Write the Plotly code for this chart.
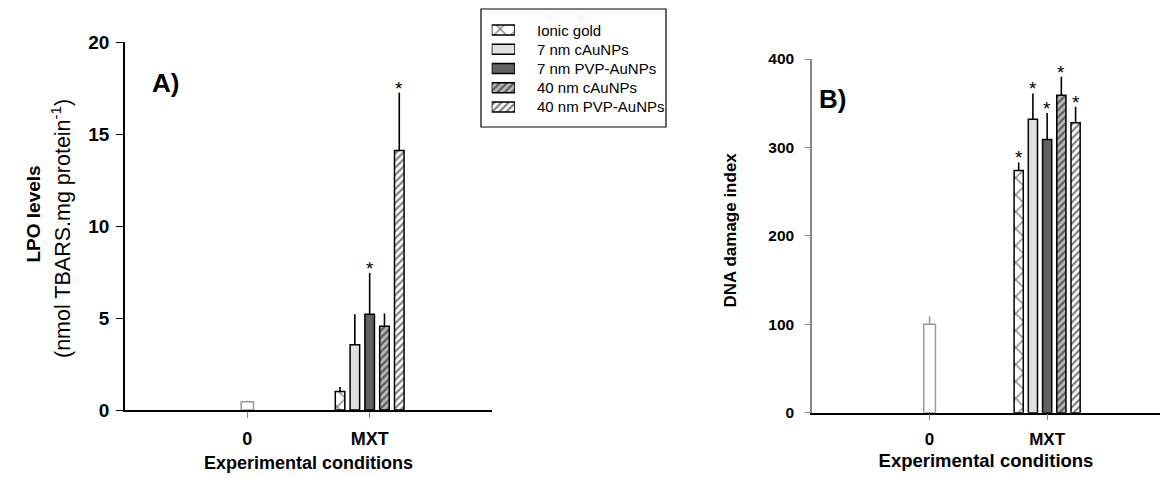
import plotly.graph_objects as go

# ---- data ----
categories = ["0", "MXT"]
groups = ["Ionic gold", "7 nm cAuNPs", "7 nm PVP-AuNPs", "40 nm cAuNPs", "40 nm PVP-AuNPs"]

# Panel A: LPO levels (nmol TBARS.mg protein-1)
lpo_control = 0.45
lpo_control_err = 0.05
lpo_mean = [1.0, 3.55, 5.2, 4.55, 14.1]
lpo_err = [0.25, 1.65, 2.25, 0.7, 3.15]
lpo_sig = [False, False, True, False, True]

# Panel B: DNA damage index
dna_control = 100
dna_control_err = 9
dna_mean = [274, 332, 309, 359, 328]
dna_err = [9, 29, 30, 21, 18]
dna_sig = [True, True, True, True, True]

# ---- styles ----
FONT = "Liberation Sans, Arial, sans-serif"
bar_w = 0.078
ctrl_w = 0.10
centers = [-0.242, -0.121, 0.0, 0.121, 0.242]
styles = [
    dict(color="white", pattern=dict(shape="x", fgcolor="black", bgcolor="white", size=12, solidity=0.22)),
    dict(color="#e0e0e0"),
    dict(color="#606060"),
    dict(color="#b8b8b8", pattern=dict(shape="/", fgcolor="black", bgcolor="#b8b8b8", size=5, solidity=0.42)),
    dict(color="white", pattern=dict(shape="/", fgcolor="black", bgcolor="white", size=5, solidity=0.42)),
]


def group_marker(i):
    st = styles[i]
    m = dict(color=st["color"], line=dict(color="black", width=1.5))
    if "pattern" in st:
        m["pattern"] = st["pattern"]
    return m


fig = go.Figure()


def add_panel(xa, ya, ctrl, ctrl_err, means, errs, sigs):
    fig.add_trace(go.Bar(
        x=[categories[0]], y=[ctrl], width=ctrl_w, offset=-ctrl_w / 2,
        marker=dict(color="white", line=dict(color="#999999", width=1.5)),
        error_y=dict(type="data", array=[ctrl_err], arrayminus=[0], symmetric=False,
                     color="#999999", thickness=1.5, width=0),
        xaxis=xa, yaxis=ya, showlegend=False, name="Control",
    ))
    for i, name in enumerate(groups):
        fig.add_trace(go.Bar(
            x=[categories[1]], y=[means[i]], width=bar_w, offset=centers[i] - bar_w / 2,
            name=name, showlegend=False, marker=group_marker(i),
            error_y=dict(type="data", array=[errs[i]], arrayminus=[0], symmetric=False,
                         color="black", thickness=1.6, width=0),
            xaxis=xa, yaxis=ya,
        ))
        if sigs[i]:
            fig.add_annotation(
                x=1 + centers[i], y=means[i] + errs[i], xref=xa, yref=ya,
                text="*", showarrow=False, yanchor="bottom", yshift=-8,
                font=dict(family=FONT, size=19, color="black"),
            )


add_panel("x", "y", lpo_control, lpo_control_err, lpo_mean, lpo_err, lpo_sig)
add_panel("x2", "y2", dna_control, dna_control_err, dna_mean, dna_err, dna_sig)

# ---- legend: swatches drawn as bars on a hidden axis pair, labels as text ----
for i, name in enumerate(groups):
    fig.add_trace(go.Bar(
        y=[i], x=[1], base=0, orientation="h", width=0.52, marker=group_marker(i),
        xaxis="x3", yaxis="y3", showlegend=False, name=name, hoverinfo="skip",
    ))
    fig.add_annotation(
        x=535 / 1160, y=i, xref="paper", yref="y3", text=name, showarrow=False,
        xanchor="left", yanchor="middle", font=dict(family=FONT, size=15, color="black"),
    )
fig.add_shape(type="rect", xref="paper", yref="paper",
              x0=481 / 1160, x1=666 / 1160, y0=1 - 127 / 478, y1=1 - 9 / 478,
              line=dict(color="black", width=1.2), fillcolor="rgba(0,0,0,0)")

xaxis_common = dict(
    type="category", categoryorder="array", categoryarray=categories,
    tickvals=categories, ticktext=["<b>0</b>", "<b>MXT</b>"],
    showline=True, linecolor="black", linewidth=1.5, ticks="outside", ticklen=6,
    tickcolor="#888888", showgrid=False, zeroline=False, automargin=False,
)

fig.update_layout(
    width=1160, height=478,
    margin=dict(l=0, r=0, t=0, b=0, autoexpand=False),
    paper_bgcolor="white", plot_bgcolor="white",
    barmode="overlay", showlegend=False,
    font=dict(family=FONT, color="black"),
    xaxis=dict(domain=[125 / 1160, 492 / 1160], range=[-1, 2], anchor="y",
               tickfont=dict(family=FONT, size=18, color="black"), ticklabelstandoff=6,
               title=dict(text="<b>Experimental conditions</b>",
                          font=dict(family=FONT, size=18, color="black"), standoff=8),
               **xaxis_common),
    yaxis=dict(
        domain=[1 - 410 / 478, 1 - 42 / 478], range=[0, 20], tickvals=[0, 5, 10, 15, 20],
        ticktext=["<b>%d</b>" % v for v in [0, 5, 10, 15, 20]],
        showline=True, linecolor="black", linewidth=1.5, ticks="outside", ticklen=7,
        tickcolor="black", showgrid=False, zeroline=False, automargin=False,
        tickfont=dict(family=FONT, size=19, color="black"),
        ticklabelstandoff=3, anchor="x",
    ),
    xaxis2=dict(domain=[812 / 1160, 1.0], range=[-1, 1.96], anchor="y2",
                tickfont=dict(family=FONT, size=17, color="black"), ticklabelstandoff=4,
                title=dict(text="<b>Experimental conditions</b>",
                           font=dict(family=FONT, size=18.5, color="black"), standoff=6),
                **xaxis_common),
    yaxis2=dict(
        domain=[1 - 412.7 / 478, 1 - 59 / 478], range=[0, 400], tickvals=[0, 100, 200, 300, 400],
        ticktext=["<b>%d</b>" % v for v in [0, 100, 200, 300, 400]],
        showline=True, linecolor="#888888", linewidth=1.5, ticks="outside", ticklen=5,
        tickcolor="#888888", showgrid=False, zeroline=False, automargin=False,
        tickfont=dict(family=FONT, size=15.5, color="black"),
        ticklabelstandoff=8, anchor="x2",
    ),
    xaxis3=dict(domain=[491.7 / 1160, 515 / 1160], range=[0, 1], anchor="y3",
                visible=False, fixedrange=True),
    yaxis3=dict(domain=[1 - 116.6 / 478, 1 - 20.4 / 478], range=[4.5, -0.5], anchor="x3",
                visible=False, fixedrange=True),
)

# y-axis titles
fig.add_annotation(x=20 / 1160, y=1 - 214 / 478, xref="paper", yref="paper",
                   text="<b>LPO levels</b>", textangle=-90, showarrow=False,
                   font=dict(family=FONT, size=19, color="black"))
fig.add_annotation(x=45 / 1160, y=1 - 229 / 478, xref="paper", yref="paper",
                   text="(nmol TBARS.mg protein<sup>-1</sup>)", textangle=-90, showarrow=False,
                   font=dict(family=FONT, size=21.5, color="black"))
fig.add_annotation(x=729.5 / 1160, y=1 - 230 / 478, xref="paper", yref="paper",
                   text="<b>DNA damage index</b>", textangle=-90, showarrow=False,
                   font=dict(family=FONT, size=17, color="black"))

# panel labels
fig.add_annotation(x=150 / 1160, y=1 - 66 / 478, xref="paper", yref="paper", text="<b>A)</b>",
                   showarrow=False, font=dict(family=FONT, size=26, color="black"))
fig.add_annotation(x=848 / 1160, y=1 - 82 / 478, xref="paper", yref="paper", text="<b>B)</b>",
                   showarrow=False, font=dict(family=FONT, size=26, color="black"))

fig.write_html("out.html")
